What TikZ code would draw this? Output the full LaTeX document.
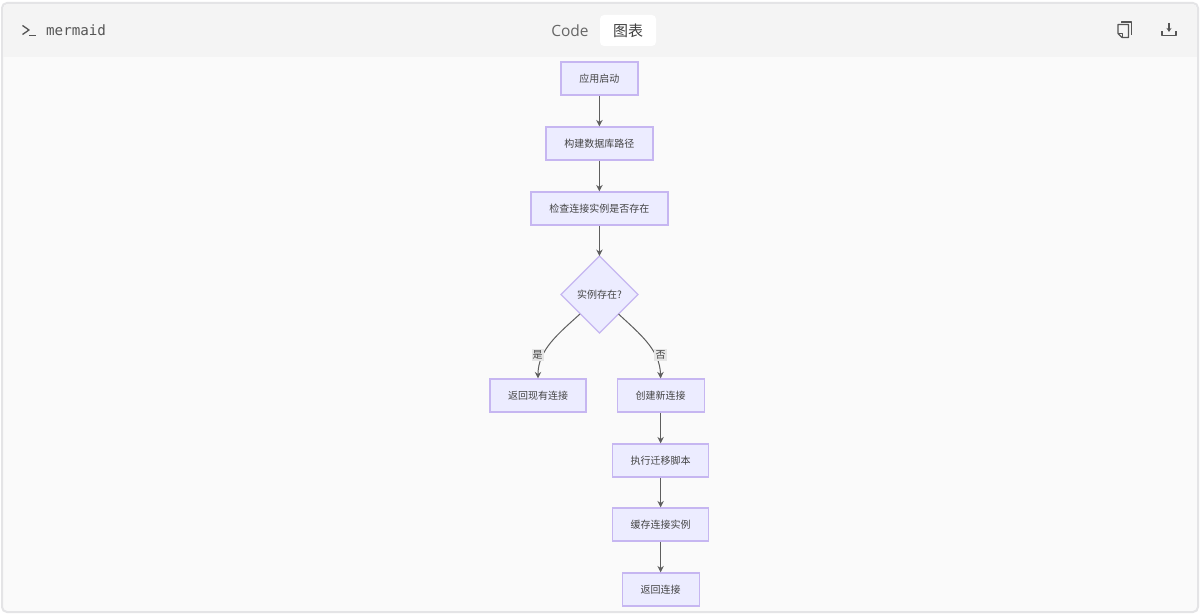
\documentclass[tikz,border=0pt]{standalone}
\usepackage{fontspec}
\setmainfont{Noto Sans CJK SC}
\newfontfamily\uifont{Open Sans}
\setmonofont{DejaVu Sans Mono}
\usetikzlibrary{arrows.meta,calc}
\definecolor{nodefill}{HTML}{ECECFF}
\definecolor{nodeline}{HTML}{C6B6F1}
\definecolor{edgecol}{HTML}{5E5E5E}
\definecolor{txt}{HTML}{444444}
\definecolor{headbg}{HTML}{F4F4F4}
\definecolor{bodybg}{HTML}{FAFAFA}
\definecolor{frameline}{HTML}{E4E4E6}
\definecolor{uitxt}{HTML}{555555}
\tikzset{
  x=1pt,y=-1pt,
  flowbox/.style={draw=nodeline,fill=nodefill,line width=1.2pt,inner sep=0pt,font=\fontsize{10}{12}\selectfont,text=txt,anchor=center},
  edgeline/.style={draw=edgecol,line width=1pt,-{Stealth[length=6.5pt,width=6.5pt]}},
  edgelabel/.style={fill=black!10,inner sep=1.2pt,font=\fontsize{10}{12}\selectfont,text=txt},
  icon/.style={draw=uitxt,line width=1.2pt,line join=round}
}
\begin{document}
\begin{tikzpicture}
\useasboundingbox (0,0) rectangle (1200,615);
\fill[white] (0,0) rectangle (1200,615);
\draw[frameline,line width=2pt,fill=bodybg,rounded corners=5pt] (2,3) rectangle (1198,612);
\begin{scope}
\clip[rounded corners=5pt] (3,4) rectangle (1197,611);
\fill[headbg] (3,4) rectangle (1197,57);
\end{scope}
\node[font=\ttfamily\fontsize{14.2}{16}\selectfont,text=uitxt,anchor=west,inner sep=0pt] (brand) at (46,30.5) {mermaid};
\draw[icon,line width=1.3pt] (22.5,25.5) -- (29,30) -- (22.5,34.5);
\draw[icon,line width=1.1pt] (29,35.5) -- (35.5,35.5);
\node[font=\uifont\fontsize{15.5}{18}\selectfont,text=uitxt!90!white,inner sep=0pt] (codetab) at (570,31) {Code};
\node[fill=white,rounded corners=4pt,minimum width=56pt,minimum height=31pt,inner sep=0pt,font=\fontsize{15}{18}\selectfont,text=black!75] (charttab) at (628,30.5) {图表};
% copy icon
\draw[icon] (1121.5,23.5) -- (1121.5,22) -- (1131.5,22) -- (1131.5,35) ;
\draw[icon] (1118,24.5) -- (1128.5,24.5) -- (1128.5,37.5) -- (1122,37.5) -- (1118,33.5) -- cycle;
\draw[icon,line width=1pt] (1118,33.5) -- (1122,33.5) -- (1122,37.5);
% download icon
\draw[icon,line width=1.1pt] (1162,31.5) -- (1162,35.5) -- (1176,35.5) -- (1176,31.5);
\draw[draw=uitxt,line width=1.1pt,-{Stealth[length=4pt,width=5pt]}] (1169,23) -- (1169,32);
% nodes
\node[flowbox,minimum width=77pt,minimum height=33pt] (start) at (599.4,78.5) {应用启动};
\node[flowbox,minimum width=107pt,minimum height=33pt] (build) at (599.4,143.5) {构建数据库路径};
\node[flowbox,minimum width=137pt,minimum height=33pt] (check) at (599.4,208.5) {检查连接实例是否存在};
\draw[draw=nodeline,fill=nodefill,line width=1.2pt] (599.4,256) coordinate (dectop) -- (637.9,294.5) -- (599.4,333) -- (560.9,294.5) -- cycle;
\node[inner sep=0pt,font=\fontsize{10}{12}\selectfont,text=txt] (dectext) at (599.4,294.2) {实例存在?};
\coordinate (decl) at (580,314);
\coordinate (decr) at (618.5,314);
\node[flowbox,minimum width=96pt,minimum height=33pt] (yes) at (538,395.5) {返回现有连接};
\node[flowbox,minimum width=87pt,minimum height=33pt] (no) at (660.6,395.5) {创建新连接};
\node[flowbox,minimum width=96pt,minimum height=33pt] (mig) at (660.6,460.5) {执行迁移脚本};
\node[flowbox,minimum width=96pt,minimum height=33pt] (cache) at (660.6,524.5) {缓存连接实例};
\node[flowbox,minimum width=77pt,minimum height=33pt] (ret) at (660.6,589.5) {返回连接};
% edges
\draw[edgeline] (start.south) -- (build.north);
\draw[edgeline] (build.south) -- (check.north);
\draw[edgeline] (check.south) -- (dectop);
\draw[edgeline] (decl) .. controls (558,334) and (538,350) .. (yes.north);
\draw[edgeline] (decr) .. controls (640,334) and (660,350) .. (no.north);
\draw[edgeline] (no.south) -- (mig.north);
\draw[edgeline] (mig.south) -- (cache.north);
\draw[edgeline] (cache.south) -- (ret.north);
\node[edgelabel] (yeslabel) at (537.7,355) {是};
\node[edgelabel] (nolabel) at (660.5,355) {否};
\end{tikzpicture}
\end{document}
